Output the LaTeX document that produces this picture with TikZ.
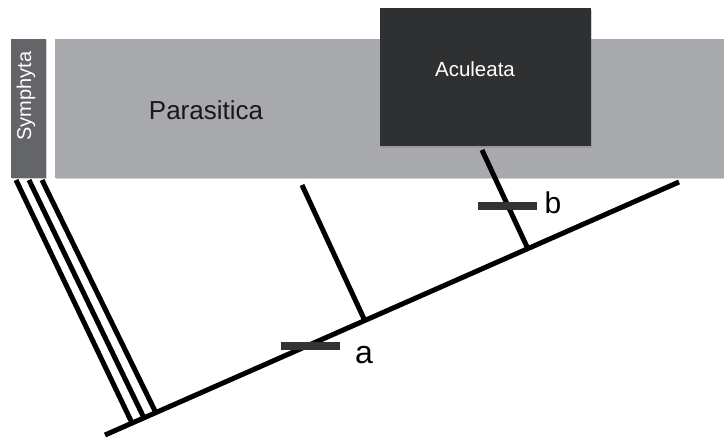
\documentclass[tikz,border=0pt]{standalone}
\usepackage{fontspec}
\setmainfont{Liberation Sans}
\usetikzlibrary{shadows}
\definecolor{symcol}{HTML}{646569}
\definecolor{paracol}{HTML}{A8A9AC}
\definecolor{aculcol}{HTML}{2F3032}
\definecolor{barcol}{HTML}{333333}
\tikzset{
  box/.style={draw=none, inner sep=0pt, anchor=north west,
    drop shadow={opacity=0.35, shadow xshift=1pt, shadow yshift=-1.5pt}},
  branch/.style={line width=5pt, black},
  bar/.style={line width=7.5pt, barcol},
}
\begin{document}
\begin{tikzpicture}[x=1pt,y=-1pt]
\useasboundingbox (0,0) rectangle (724,440);
% boxes
\node[box, fill=paracol, minimum width=669pt, minimum height=139pt] (para) at (54.5,38.5) {};
\node[box, fill=symcol, minimum width=35pt, minimum height=139pt] (sym) at (11,38.5) {};
\node[box, fill=aculcol, minimum width=211pt, minimum height=138pt] (acul) at (380,8) {};
% labels
\node[font=\fontsize{26}{30}\selectfont, text=black!90] (paralab) at (206,110) {Parasitica};
\node[font=\fontsize{20.5}{24}\selectfont, text=white] (acullab) at (475,69) {Aculeata};
\node[font=\fontsize{20}{24}\selectfont, text=white, rotate=90] (symlab) at (26,96) {Symphyta};
% main line coordinates
\coordinate (root) at (105,435);
\coordinate (tip) at (679,182);
\coordinate (s1t) at (16,180);
\coordinate (s2t) at (29,180);
\coordinate (s3t) at (42,180);
\coordinate (s1b) at (132,423);
\coordinate (s2b) at (144,418);
\coordinate (s3b) at (156,413);
\coordinate (pt) at (302,185);
\coordinate (pb) at (365,321);
\coordinate (at) at (482,150);
\coordinate (ab) at (528,249);
\coordinate (bara1) at (281,346);
\coordinate (bara2) at (340,346);
\coordinate (barb1) at (478,206);
\coordinate (barb2) at (537,206);
% branches
\draw[branch] (root) -- (tip);
\draw[branch] (s1t) -- (s1b);
\draw[branch] (s2t) -- (s2b);
\draw[branch] (s3t) -- (s3b);
\draw[branch] (pt) -- (pb);
\draw[branch] (at) -- (ab);
% bars
\draw[bar] (bara1) -- (bara2);
\draw[bar] (barb1) -- (barb2);
\node[font=\fontsize{32}{36}\selectfont] (alab) at (364,355) {a};
\node[font=\fontsize{30}{34}\selectfont] (blab) at (553,203) {b};
\end{tikzpicture}
\end{document}
